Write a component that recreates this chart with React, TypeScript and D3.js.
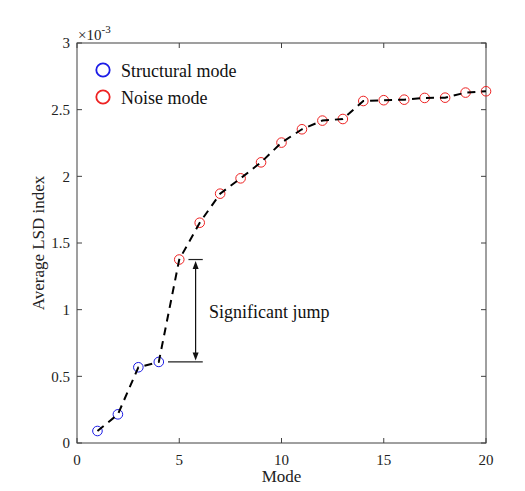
import * as d3 from 'd3';
import React, { useEffect, useRef } from 'react';

// values (units of 1e-3)
const modes = [1, 2, 3, 4, 5, 6, 7, 8, 9, 10, 11, 12, 13, 14, 15, 16, 17, 18, 19, 20];
const lsdIndex = [
  0.09, 0.215, 0.568, 0.608, 1.376, 1.652, 1.870, 1.985, 2.105, 2.253,
  2.353, 2.418, 2.430, 2.565, 2.571, 2.575, 2.588, 2.590, 2.628, 2.638,
];
const structuralCount = 4;
const xTicks = [0, 5, 10, 15, 20];
const yTicks = [0, 0.5, 1, 1.5, 2, 2.5, 3];
const legendLabels = ['Structural mode', 'Noise mode'];
const jumpLabel = 'Significant jump';

export default function App() {
  const svgRef = useRef<SVGSVGElement>(null);
  const width = 525;
  const height = 491;

  useEffect(() => {
    const svg = d3.select(svgRef.current);
    svg.selectAll('*').remove();

    const margin = { top: 43, right: 39, bottom: 48, left: 77 };
    const x = d3.scaleLinear().domain([0, 20]).range([margin.left, width - margin.right]);
    const y = d3.scaleLinear().domain([0, 3]).range([height - margin.bottom, margin.top]);
    const font = '"Liberation Serif", "Times New Roman", serif';
    const axisColor = '#404040';
    const blue = '#1c1ce6';
    const red = '#ee2222';

    svg.append('rect').attr('width', width).attr('height', height).attr('fill', '#fff');

    // box
    svg.append('rect')
      .attr('x', x(0)).attr('y', y(3))
      .attr('width', x(20) - x(0)).attr('height', y(0) - y(3))
      .attr('fill', 'none').attr('stroke', axisColor).attr('stroke-width', 1);

    const tickLen = 5;
    xTicks.forEach((t) => {
      svg.append('line').attr('x1', x(t)).attr('x2', x(t))
        .attr('y1', y(0)).attr('y2', y(0) - tickLen).attr('stroke', axisColor);
      svg.append('line').attr('x1', x(t)).attr('x2', x(t))
        .attr('y1', y(3)).attr('y2', y(3) + tickLen).attr('stroke', axisColor);
      svg.append('text').attr('x', x(t)).attr('y', y(0) + 22)
        .attr('text-anchor', 'middle').style('font-family', font).style('font-size', '15px')
        .attr('fill', '#222').text(String(t));
    });
    yTicks.forEach((t) => {
      svg.append('line').attr('x1', x(0)).attr('x2', x(0) + tickLen)
        .attr('y1', y(t)).attr('y2', y(t)).attr('stroke', axisColor);
      svg.append('line').attr('x1', x(20)).attr('x2', x(20) - tickLen)
        .attr('y1', y(t)).attr('y2', y(t)).attr('stroke', axisColor);
      svg.append('text').attr('x', x(0) - 7).attr('y', y(t)).attr('dy', '0.35em')
        .attr('text-anchor', 'end').style('font-family', font).style('font-size', '15px')
        .attr('fill', '#222').text(String(t));
    });

    // exponent
    const exp = svg.append('text').attr('x', x(0) + 1).attr('y', y(3) - 3)
      .style('font-family', font).style('font-size', '15px').attr('fill', '#222');
    exp.append('tspan').text('×10');
    exp.append('tspan').attr('dy', -7).style('font-size', '11px').text('-3');

    // axis labels
    svg.append('text').attr('x', (x(0) + x(20)) / 2).attr('y', height - 9)
      .attr('text-anchor', 'middle').style('font-family', font).style('font-size', '17px')
      .attr('fill', '#222').text('Mode');
    svg.append('text')
      .attr('transform', `translate(44,${(y(0) + y(3)) / 2}) rotate(-90)`)
      .attr('text-anchor', 'middle').style('font-family', font).style('font-size', '17px')
      .attr('fill', '#222').text('Average LSD index');

    // markers
    svg.append('g').selectAll('circle')
      .data(modes.map((m, i) => ({ m, v: lsdIndex[i], i })))
      .join('circle')
      .attr('cx', (d) => x(d.m)).attr('cy', (d) => y(d.v)).attr('r', 4.8)
      .attr('fill', 'none')
      .attr('stroke', (d) => (d.i < structuralCount ? blue : red))
      .attr('stroke-width', 1);

    // dashed line
    const line = d3.line<number>().x((_, i) => x(modes[i])).y((d) => y(d));
    svg.append('path').attr('d', line(lsdIndex))
      .attr('fill', 'none').attr('stroke', '#000').attr('stroke-width', 2)
      .attr('stroke-dasharray', '8,6');

    // jump annotation
    const v4 = lsdIndex[3];
    const v5 = lsdIndex[4];
    svg.append('line').attr('x1', x(5.45)).attr('x2', x(6.15)).attr('y1', y(v5)).attr('y2', y(v5))
      .attr('stroke', '#222').attr('stroke-width', 1.2);
    svg.append('line').attr('x1', x(4.45)).attr('x2', x(6.15)).attr('y1', y(v4)).attr('y2', y(v4))
      .attr('stroke', '#222').attr('stroke-width', 1.2);
    const ax = x(5.8);
    const top = y(v5) + 1.5;
    const bot = y(v4) - 1.5;
    svg.append('line').attr('x1', ax).attr('x2', ax).attr('y1', top + 6).attr('y2', bot - 6)
      .attr('stroke', '#111').attr('stroke-width', 1.2);
    svg.append('path').attr('d', `M${ax},${top} L${ax - 3},${top + 8} L${ax + 3},${top + 8} Z`).attr('fill', '#111');
    svg.append('path').attr('d', `M${ax},${bot} L${ax - 3},${bot - 8} L${ax + 3},${bot - 8} Z`).attr('fill', '#111');
    svg.append('text').attr('x', x(6.45)).attr('y', y(0.94))
      .style('font-family', font).style('font-size', '18px').attr('fill', '#111').text(jumpLabel);

    // legend
    const legendColors = [blue, red];
    legendLabels.forEach((lab, i) => {
      const ly = 70 + i * 27;
      svg.append('circle').attr('cx', 103).attr('cy', ly).attr('r', 6.7)
        .attr('fill', 'none').attr('stroke', legendColors[i]).attr('stroke-width', 1.8);
      svg.append('text').attr('x', 121).attr('y', ly + 6.5)
        .style('font-family', font).style('font-size', '18px').attr('fill', '#111').text(lab);
    });
  }, []);

  return (
    <svg ref={svgRef} width={width} height={height}
      style={{ position: 'absolute', left: 0, top: 0, display: 'block' }} />
  );
}
